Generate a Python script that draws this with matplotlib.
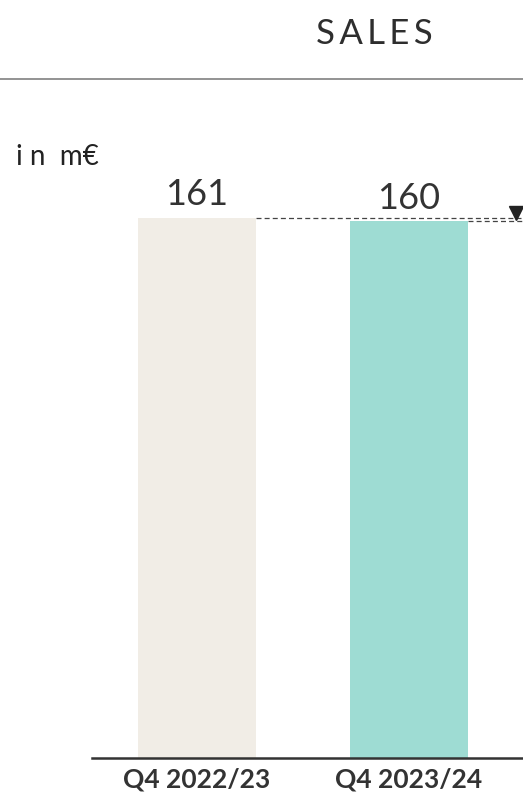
import numpy as np
import matplotlib.pyplot as plt

plt.rcParams['font.family'] = ['Lato', 'DejaVu Sans']

periods = ['Q4 2022/23', 'Q4 2023/24']
sales = [161, 160]
bar_colors = ['#F1EDE6', '#9EDCD3']
text_color = '#333333'

fig = plt.figure(figsize=(5.23, 7.99), dpi=100)

# header
fig.text(0.715, 0.958, '\u2009'.join('SALES'), ha='center', va='center', fontsize=25,
         color='#2e2e2e')
fig.add_artist(plt.Line2D([0, 1], [0.901, 0.901], color='#8a8a8a', lw=1.3))
fig.text(0.031, 0.803, 'i n  m€', ha='left', va='center', fontsize=20, color='#222222')

ax = fig.add_axes([92 / 523, 41 / 799, 430 / 523, 588 / 799])
x = np.arange(len(sales))
width = 0.557
ax.bar(x, sales, width=width, color=bar_colors, zorder=2)

for xi, v in zip(x, sales):
    ax.text(xi, v + 2.0, str(v), ha='center', va='bottom', fontsize=26, color=text_color)

# reference lines to the right edge
right = 1.533
ax.plot([x[0] + width / 2, right], [sales[0], sales[0]], ls=(0, (4, 2.5)), color='#444444', lw=0.9, clip_on=False)
ax.plot([x[1] + width / 2, right], [sales[1], sales[1]], ls=(0, (4, 2.5)), color='#444444', lw=0.9, clip_on=False)
ax.plot([1.505], [sales[0] + 1.6], marker='v', color='#222222', markersize=10, clip_on=False)

ax.set_xlim(-0.495, right)
ax.set_ylim(0, 175.3)
ax.set_xticks(x)
ax.set_xticklabels(periods, fontsize=19, fontweight='bold', color=text_color)
ax.tick_params(axis='x', length=0, pad=7)
ax.set_yticks([])
for s in ['top', 'right', 'left']:
    ax.spines[s].set_visible(False)
ax.spines['bottom'].set_color('#333333')
ax.spines['bottom'].set_linewidth(1.8)

fig.savefig('out.png', dpi=100)
